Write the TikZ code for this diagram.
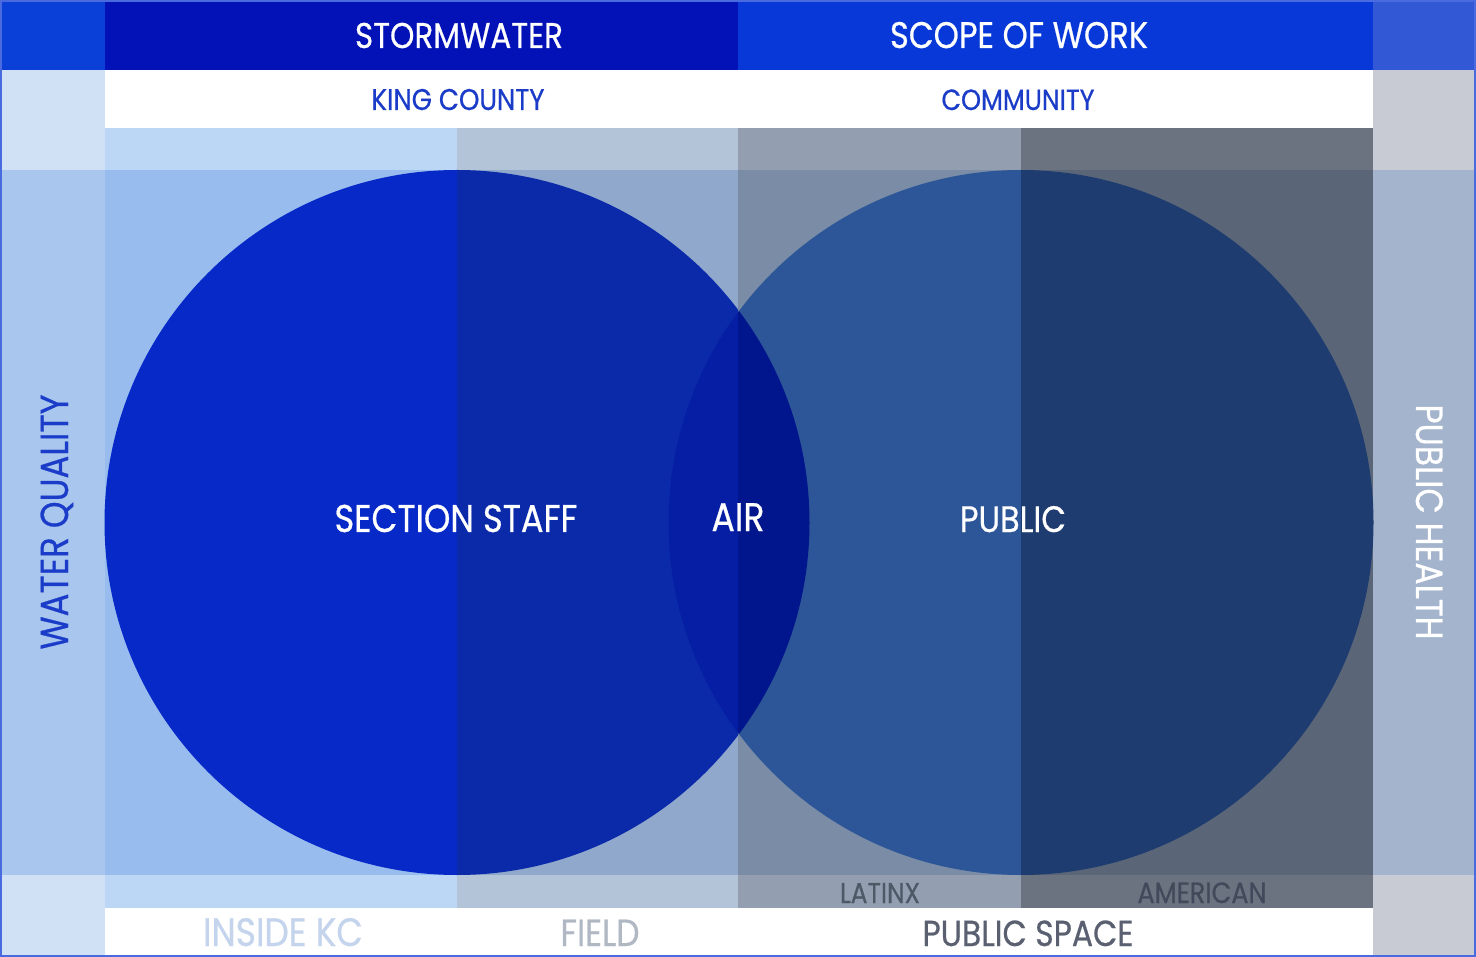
\documentclass[tikz,border=0pt]{standalone}
\usepackage{fontspec}
\usepackage{graphicx}
\setmainfont{Poppins}[FakeBold=0.6]
\definecolor{kTLC}{HTML}{0B40D8}
\definecolor{kStorm}{HTML}{0212B6}
\definecolor{kScope}{HTML}{0839D8}
\definecolor{kTRC}{HTML}{3358D6}
\definecolor{kLpale}{HTML}{D0E0F5}
\definecolor{kLmain}{HTML}{A8C6EE}
\definecolor{kAa}{HTML}{BCD6F5}
\definecolor{kAm}{HTML}{98BCEE}
\definecolor{kBa}{HTML}{B4C4D8}
\definecolor{kBm}{HTML}{90A8CC}
\definecolor{kCa}{HTML}{939FB0}
\definecolor{kCm}{HTML}{7A8CA6}
\definecolor{kDa}{HTML}{6B7280}
\definecolor{kDm}{HTML}{5A6678}
\definecolor{kRpale}{HTML}{C8CAD4}
\definecolor{kRmain}{HTML}{A4B4CC}
\definecolor{kCircA}{HTML}{0629C8}
\definecolor{kCircB}{HTML}{0A2AAA}
\definecolor{kCircC}{HTML}{2C5698}
\definecolor{kCircD}{HTML}{1E3C70}
\definecolor{kCircE}{HTML}{061EA4}
\definecolor{kCircF}{HTML}{01168C}
\definecolor{kTblue}{HTML}{1A3CC8}
\definecolor{kTinside}{HTML}{C4D4EC}
\definecolor{kTfield}{HTML}{B0B8C4}
\definecolor{kTspace}{HTML}{5A6070}
\definecolor{kTlatinx}{HTML}{4E5866}
\definecolor{kTamer}{HTML}{414A5A}
\definecolor{kFrame}{HTML}{4A6AE0}
\newcommand{\fw}[2]{\resizebox{#1pt}{!}{\scalebox{1}[1.15]{#2}}}
\tikzset{lbl/.style={inner sep=0pt, anchor=base}}
\begin{document}
\begin{tikzpicture}[x=1pt,y=-1pt]
\useasboundingbox (0,0) rectangle (1476,957);
% top band
\fill[kTLC] (0,0) rectangle (105,70);
\fill[kStorm] (105,0) rectangle (738,70);
\fill[kScope] (738,0) rectangle (1373,70);
\fill[kTRC] (1373,0) rectangle (1476,70);
% left column
\fill[kLpale] (0,70) rectangle (105,170);
\fill[kLmain] (0,170) rectangle (105,875);
\fill[kLpale] (0,875) rectangle (105,957);
% right column
\fill[kRpale] (1373,70) rectangle (1476,170);
\fill[kRmain] (1373,170) rectangle (1476,875);
\fill[kRpale] (1373,875) rectangle (1476,957);
% white rows
\fill[white] (105,70) rectangle (1373,128);
\fill[white] (105,908) rectangle (1373,957);
% columns
\fill[kAa] (105,128) rectangle (457,170);
\fill[kAm] (105,170) rectangle (457,875);
\fill[kAa] (105,875) rectangle (457,908);
\fill[kBa] (457,128) rectangle (738,170);
\fill[kBm] (457,170) rectangle (738,875);
\fill[kBa] (457,875) rectangle (738,908);
\fill[kCa] (738,128) rectangle (1021,170);
\fill[kCm] (738,170) rectangle (1021,875);
\fill[kCa] (738,875) rectangle (1021,908);
\fill[kDa] (1021,128) rectangle (1373,170);
\fill[kDm] (1021,170) rectangle (1373,875);
\fill[kDa] (1021,875) rectangle (1373,908);
% circles
\begin{scope}
\clip (0,0) rectangle (457,957);
\fill[kCircA] (457,522.5) circle[radius=352.5];
\end{scope}
\begin{scope}
\clip (457,0) rectangle (738,957);
\fill[kCircB] (457,522.5) circle[radius=352.5];
\end{scope}
\begin{scope}
\clip (738,0) rectangle (1021,957);
\fill[kCircC] (1021,522.5) circle[radius=352.5];
\end{scope}
\begin{scope}
\clip (1021,0) rectangle (1476,957);
\fill[kCircD] (1021,522.5) circle[radius=352.5];
\end{scope}
\begin{scope}
\clip (457,522.5) circle[radius=352.5];
\begin{scope}
\clip (0,0) rectangle (738,957);
\fill[kCircE] (1021,522.5) circle[radius=352.5];
\end{scope}
\begin{scope}
\clip (738,0) rectangle (1476,957);
\fill[kCircF] (1021,522.5) circle[radius=352.5];
\end{scope}
\end{scope}
% frame
\draw[kFrame, line width=2pt] (1,1) rectangle (1475,956);
% labels
\node[lbl, white] (storm) at (459,48) {\fw{208}{STORMWATER}};
\node[lbl, white] (scopew) at (1019,48) {\fw{258}{SCOPE OF WORK}};
\node[lbl, kTblue] (kc) at (458,110) {\fw{173}{KING COUNTY}};
\node[lbl, kTblue] (comm) at (1018,110) {\fw{153}{COMMUNITY}};
\node[lbl, white] (staff) at (456,532) {\fw{243}{SECTION STAFF}};
\node[lbl, white] (air) at (738,531) {\fw{53}{AIR}};
\node[lbl, white] (public) at (1013,532) {\fw{106}{PUBLIC}};
\node[lbl, kTlatinx] (latinx) at (880,903) {\fw{80}{LATINX}};
\node[lbl, kTamer] (amer) at (1202,903) {\fw{129}{AMERICAN}};
\node[lbl, kTinside] (inside) at (283,946) {\fw{160}{INSIDE KC}};
\node[lbl, kTfield] (field) at (600,946) {\fw{79}{FIELD}};
\node[lbl, kTspace] (pspace) at (1028,946) {\fw{211}{PUBLIC SPACE}};
\node[lbl, kTblue, rotate=90] (wq) at (68,522) {\fw{255}{WATER QUALITY}};
\node[lbl, white, rotate=-90] (ph) at (1416,522) {\fw{235}{PUBLIC HEALTH}};
\end{tikzpicture}
\end{document}
